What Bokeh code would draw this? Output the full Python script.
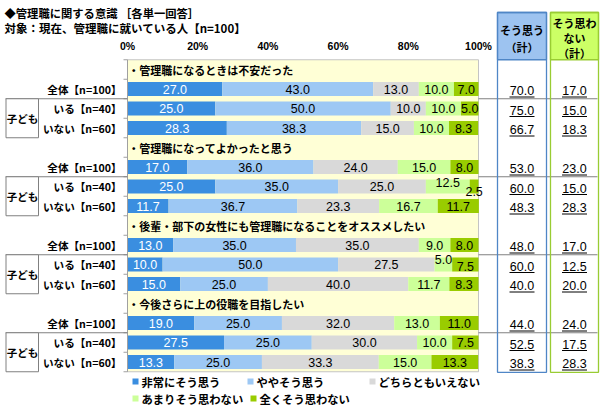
from bokeh.plotting import figure
from bokeh.models import Range1d, ColumnDataSource
from bokeh.core.properties import value
from bokeh.embed import file_html
from bokeh.resources import INLINE

# ---------------- data ----------------
title = "◆管理職に関する意識 ［各単一回答］"
subtitle = "対象：現在、管理職に就いている人【n=100】"
questions = [
    "・管理職になるときは不安だった",
    "・管理職になってよかったと思う",
    "・後輩・部下の女性にも管理職になることをオススメしたい",
    "・今後さらに上の役職を目指したい",
]
groups = ["全体【n=100】", "いる【n=40】", "いない【n=60】"]
child_label = "子ども"
categories = ["非常にそう思う", "ややそう思う", "どちらともいえない", "あまりそう思わない", "全くそう思わない"]
tick_values = [0, 20, 40, 60, 80, 100]
tick_labels = ["0%", "20%", "40%", "60%", "80%", "100%"]
agree_header = ["そう思う", "（計）"]
disagree_header = ["そう思わ", "ない", "（計）"]

# rows: q1(全体, いる, いない), q2(...), q3(...), q4(...)
very_agree = [27.0, 25.0, 28.3, 17.0, 25.0, 11.7, 13.0, 10.0, 15.0, 19.0, 27.5, 13.3]
somewhat_agree = [43.0, 50.0, 38.3, 36.0, 35.0, 36.7, 35.0, 50.0, 25.0, 25.0, 25.0, 25.0]
neutral = [13.0, 10.0, 15.0, 24.0, 25.0, 23.3, 35.0, 27.5, 40.0, 32.0, 30.0, 33.3]
not_much = [10.0, 10.0, 10.0, 15.0, 12.5, 16.7, 9.0, 5.0, 11.7, 13.0, 10.0, 15.0]
not_at_all = [7.0, 5.0, 8.3, 8.0, 2.5, 11.7, 8.0, 7.5, 8.3, 11.0, 7.5, 13.3]
agree_total = [70.0, 75.0, 66.7, 53.0, 60.0, 48.3, 48.0, 60.0, 40.0, 44.0, 52.5, 38.3]
disagree_total = [17.0, 15.0, 18.3, 23.0, 15.0, 28.3, 17.0, 12.5, 20.0, 24.0, 17.5, 28.3]

series = [very_agree, somewhat_agree, neutral, not_much, not_at_all]
colors = ["#3A8EE0", "#9DC8F4", "#D9D9D9", "#CCFF99", "#99CC00"]
label_colors = ["white", "black", "black", "black", "black"]

# ---------------- layout helpers ----------------
W, H = 600, 407
PX = 3.51          # px per percent
RY = 19.5          # px per row
X0_PAGE = 127.0    # x of 0%
Y0_PAGE = 69.0     # y of first row centre


def X(px):
    return (px - X0_PAGE) / PX


def Y(py):
    return (py - Y0_PAGE) / RY


JP = value("Noto Sans CJK JP")
NUM = value("Liberation Sans")

p = figure(width=W, height=H,
           x_range=Range1d(X(0), X(W)),
           y_range=Range1d(Y(H), Y(0)),
           x_axis_type=None, y_axis_type=None,
           toolbar_location=None, output_backend="svg",
           min_border=0, outline_line_color=None)
p.background_fill_color = "white"
p.border_fill_color = "white"

n_rows = 4 * len(questions)
bottom_edge = n_rows - 0.5

# plot area background
p.quad(left=[0], right=[100], top=[-0.5], bottom=[bottom_edge],
       fill_color="#FFFFD6", line_color="#C4C4C4", line_width=1)

# row positions
rows = [4 * (i // 3) + 1 + (i % 3) for i in range(len(very_agree))]

# stacked bars
lefts = [0.0] * len(rows)
label_x, label_y, label_t, label_c = [], [], [], []
offsets = {(4, 3): -4.5, (4, 4): 5.0, (7, 3): -5.0, (7, 4): 2.0}
for c, vals in enumerate(series):
    rights = [l + v for l, v in zip(lefts, vals)]
    p.hbar(y=rows, left=lefts, right=rights, height=0.72,
           fill_color=colors[c], line_color=None)
    for i, (l, r, v) in enumerate(zip(lefts, rights, vals)):
        label_x.append((l + min(r, 100)) / 2)
        label_y.append(rows[i] + offsets.get((i, c), 0.0) / RY)
        label_t.append(f"{v:.1f}")
        label_c.append(label_colors[c])
    lefts = rights

p.text(x="x", y="y", text="t", text_color="c",
       source=ColumnDataSource(dict(x=label_x, y=label_y, t=label_t, c=label_c)),
       text_align="center", text_baseline="middle",
       text_font=NUM, text_font_size="12.5px")

# left axis with tick marks
p.segment(x0=[0], x1=[0], y0=[-0.5], y1=[bottom_edge], line_color="#A0A0A0")
tk = [k - 0.5 for k in range(n_rows + 1)]
p.segment(x0=[X(123)] * len(tk), x1=[0] * len(tk), y0=tk, y1=tk, line_color="#A0A0A0")

# percent tick labels
p.text(x=tick_values, y=[Y(45)] * len(tick_values), text=tick_labels,
       text_align="center", text_baseline="middle", text_font=NUM,
       text_font_style="bold", text_font_size="10.5px", text_color="black")

# question headers
p.text(x=[0.2] * len(questions), y=[4 * q for q in range(len(questions))], text=questions,
       text_align="left", text_baseline="middle", text_font=JP,
       text_font_style="bold", text_font_size="11px", text_color="black")

# row labels
p.text(x=[X(121)] * len(rows), y=rows, text=[groups[i % 3] for i in range(len(rows))],
       text_align="right", text_baseline="middle", text_font=JP,
       text_font_style="bold", text_font_size="10.6px", text_color="black")

# separator lines and 子ども boxes
seps = [4 * q + 1.5 for q in range(len(questions))]
p.segment(x0=[X(5)] * 4, x1=[0] * 4, y0=seps, y1=seps, line_color="#808080")
p.segment(x0=[100] * 4, x1=[X(597)] * 4, y0=seps, y1=seps, line_color="#808080")
p.quad(left=[X(5.5)] * 4, right=[X(38)] * 4, top=seps, bottom=[s + 2 for s in seps],
       fill_color="white", line_color="#808080")
p.text(x=[X(22)] * 4, y=[s + 1 for s in seps], text=[child_label] * 4,
       text_align="center", text_baseline="middle", text_font=JP,
       text_font_style="bold", text_font_size="10.5px", text_color="black")

# right-hand total columns
boxes = [
    (497, 546, "#9DC3F0", "#4F86C6", agree_header, [29, 46], agree_total),
    (550, 598, "#CCFF66", "#99CC33", disagree_header, [22, 37, 52], disagree_total),
]
for (bl, br, fill, edge, htxt, hy, vals) in boxes:
    p.quad(left=[X(bl)], right=[X(br)], top=[Y(12)], bottom=[-0.5],
           fill_color=fill, line_color=edge, line_width=1.3)
    p.quad(left=[X(bl)], right=[X(br)], top=[Y(12)], bottom=[bottom_edge + 0.03],
           fill_color=None, line_color=edge, line_width=1.3)
    cx = X((bl + br) / 2)
    p.text(x=[cx] * len(htxt), y=[Y(v) for v in hy], text=htxt,
           text_align="center", text_baseline="middle", text_font=JP,
           text_font_style="bold", text_font_size="11px", text_color="black")
    vy = [r + 1.5 / RY for r in rows]
    p.text(x=[cx] * len(vals), y=vy, text=[f"{v:.1f}" for v in vals],
           text_align="center", text_baseline="middle", text_font=NUM,
           text_font_size="12.5px", text_color="black")
    hw = 12.5 / PX
    uy = [r + 8.0 / RY for r in rows]
    p.segment(x0=[cx - hw] * len(vals), x1=[cx + hw] * len(vals), y0=uy, y1=uy,
              line_color="black", line_width=1)

# title and subtitle
p.text(x=[X(4)], y=[Y(12)], text=[title], text_align="left", text_baseline="middle",
       text_font=JP, text_font_style="bold", text_font_size="11.3px", text_color="black")
p.text(x=[X(4)], y=[Y(27.5)], text=[subtitle], text_align="left", text_baseline="middle",
       text_font=JP, text_font_style="bold", text_font_size="11.5px", text_color="black")

# legend
leg_pos = [(135, 381), (250, 381), (372, 381), (135, 398), (253, 398)]
sq = 3.0
p.quad(left=[X(px - sq) for px, py in leg_pos], right=[X(px + sq) for px, py in leg_pos],
       top=[Y(py - sq) for px, py in leg_pos], bottom=[Y(py + sq) for px, py in leg_pos],
       fill_color=colors, line_color=None)
p.text(x=[X(px + 6) for px, py in leg_pos], y=[Y(py) for px, py in leg_pos], text=categories,
       text_align="left", text_baseline="middle", text_font=JP,
       text_font_style="bold", text_font_size="11.3px", text_color="black")

open("out.html", "w").write(file_html(p, INLINE))
